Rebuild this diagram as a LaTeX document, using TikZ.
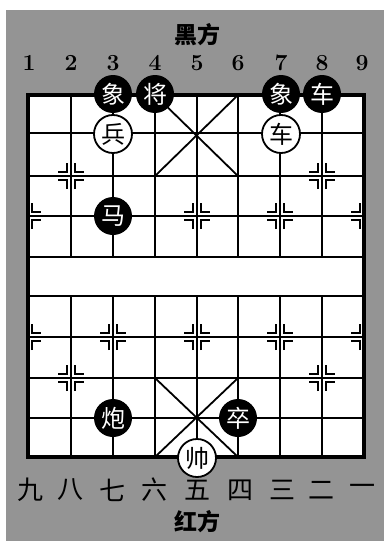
\documentclass[tikz,border=0pt]{standalone}
\usepackage{fontspec}
\newfontfamily\cjk{Noto Sans CJK SC}
\begin{document}
\begin{tikzpicture}[x=1pt,y=-1pt,
  gridline/.style={line width=1.8pt},
  frameline/.style={line width=3.6pt},
  markline/.style={line width=1.8pt},
  piece/.style={circle, minimum size=38pt, inner sep=0pt, font=\cjk\fontsize{24}{24}\selectfont},
  blackpiece/.style={piece, fill=black, text=white},
  redpiece/.style={piece, fill=white, draw=black, line width=1.8pt, text=black},
  collabel/.style={font=\bfseries\fontsize{23}{23}\selectfont},
  rowname/.style={font=\cjk\fontsize{26}{26}\selectfont},
  sidename/.style={font=\cjk\bfseries\fontsize{23}{23}\selectfont},
  pmL/.pic={\draw[markline] (-4,-13) -- (-4,-4) -- (-13,-4);
            \draw[markline] (-4,13) -- (-4,4) -- (-13,4);},
  pmR/.pic={\draw[markline] (4,-13) -- (4,-4) -- (13,-4);
            \draw[markline] (4,13) -- (4,4) -- (13,4);},
  pmB/.pic={\pic {pmL}; \pic {pmR};}
]
\useasboundingbox (0,0) rectangle (387,543);
% noisy backdrop
\fill[black!42] (6,10) rectangle (384,541);
% board
\fill[white] (28,95) rectangle (364,457);
\foreach \x in {71,113,155,197,238,280,322} {
  \draw[gridline] (\x,95) -- (\x,257);
  \draw[gridline] (\x,296) -- (\x,457);
}
\foreach \y in {133,176,216,257,296,337,378,418}
  \draw[gridline] (28,\y) -- (364,\y);
\draw[frameline] (28,95) rectangle (364,457);
% palaces
\draw[gridline] (155,95) -- (238,176) (238,95) -- (155,176);
\draw[gridline] (155,378) -- (238,457) (238,378) -- (155,457);
% position marks
\pic at (71,176) {pmB};
\pic at (322,176) {pmB};
\pic at (71,378) {pmB};
\pic at (322,378) {pmB};
\foreach \y in {216,337} {
  \pic at (28,\y) {pmR};
  \pic at (113,\y) {pmB};
  \pic at (197,\y) {pmB};
  \pic at (280,\y) {pmB};
  \pic at (364,\y) {pmL};
}
% side names
\node[sidename] (black) at (197,35) {黑方};
\node[sidename] (red) at (197,522) {红方};
% column labels
\node[collabel] (c1) at (29,63) {1};
\node[collabel] (c2) at (71,63) {2};
\node[collabel] (c3) at (113,63) {3};
\node[collabel] (c4) at (155,63) {4};
\node[collabel] (c5) at (197,63) {5};
\node[collabel] (c6) at (238,63) {6};
\node[collabel] (c7) at (281,63) {7};
\node[collabel] (c8) at (322,63) {8};
\node[collabel] (c9) at (362,63) {9};
\node[rowname] (n9) at (30,490) {九};
\node[rowname] (n8) at (70,490) {八};
\node[rowname] (n7) at (112,490) {七};
\node[rowname] (n6) at (154,490) {六};
\node[rowname] (n5) at (197,490) {五};
\node[rowname] (n4) at (240,490) {四};
\node[rowname] (n3) at (282,490) {三};
\node[rowname] (n2) at (321,490) {二};
\node[rowname] (n1) at (362,490) {一};
% pieces
\node[blackpiece] (bx1) at (113,94) {象};
\node[blackpiece] (bj) at (155,94) {将};
\node[blackpiece] (bx2) at (281,94) {象};
\node[blackpiece] (bc) at (322,94) {车};
\node[redpiece] (rb) at (113,134) {兵};
\node[redpiece] (rc) at (281,134) {车};
\node[blackpiece] (bm) at (113,216) {马};
\node[blackpiece] (bp) at (113,418) {炮};
\node[blackpiece] (bz) at (238,418) {卒};
\node[redpiece] (rs) at (197,458) {帅};
\end{tikzpicture}
\end{document}
